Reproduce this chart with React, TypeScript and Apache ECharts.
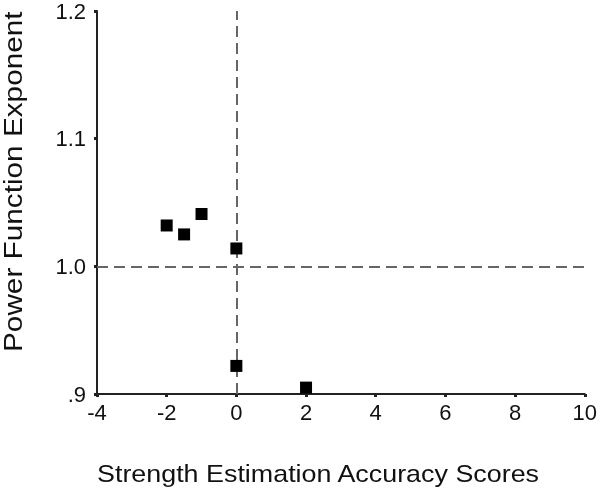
import React, { useEffect, useRef } from "react";
import * as echarts from "echarts";

const xValues = [-2, -1.5, -1, 0, 0, 2];
const yValues = [1.032, 1.025, 1.041, 1.014, 0.922, 0.905];
const yTickLabels: Record<string, string> = { "0.9": ".9", "1.0": "1.0", "1.1": "1.1", "1.2": "1.2" };
const xTitle = "Strength Estimation Accuracy Scores";
const yTitle = "Power Function Exponent";
const refX = 0;
const refY = 1.0;

export default function App() {
  const ref = useRef<HTMLDivElement>(null);
  useEffect(() => {
    if (!ref.current) return;
    const chart = echarts.init(ref.current, undefined, { renderer: "svg" });
    const font = "Liberation Sans, Arial, sans-serif";
    chart.setOption({
      animation: false,
      grid: { left: 97, right: 13, top: 10, bottom: 100 },
      xAxis: {
        type: "value",
        min: -4,
        max: 10,
        interval: 2,
        splitLine: { show: false },
        axisLine: { onZero: false, lineStyle: { color: "#222", width: 2 } },
        axisTick: { length: 3, lineStyle: { color: "#222", width: 3 } },
        axisLabel: { color: "#111", fontSize: 22, fontFamily: font, margin: 7 },
      },
      yAxis: {
        type: "value",
        min: 0.9,
        max: 1.2,
        interval: 0.1,
        splitLine: { show: false },
        axisLine: { onZero: false, lineStyle: { color: "#222", width: 2 } },
        axisTick: { length: 3, lineStyle: { color: "#222", width: 3 } },
        axisLabel: {
          color: "#111",
          fontSize: 22,
          fontFamily: font,
          margin: 11,
          formatter: (v: number) => yTickLabels[v.toFixed(1)] ?? v.toFixed(1),
        },
      },
      series: [
        {
          type: "scatter",
          data: xValues.map((x, i) => [x, yValues[i]]),
          symbol: "rect",
          symbolSize: 12,
          itemStyle: { color: "#000", opacity: 1 },
          z: 5,
          markLine: {
            silent: true,
            symbol: "none",
            label: { show: false },
            lineStyle: { color: "#666", width: 2, type: [11, 6] },
            data: [{ xAxis: refX }, { yAxis: refY }],
          },
        },
      ],
      graphic: [
        {
          type: "text",
          x: 97,
          y: 462,
          scaleX: 1.12,
          style: { text: xTitle, fontSize: 24, fontFamily: font, fill: "#111" },
        },
        {
          type: "text",
          x: 1,
          y: 352,
          rotation: Math.PI / 2,
          scaleX: 1.19,
          style: { text: yTitle, fontSize: 25, fontFamily: font, fill: "#111", textVerticalAlign: "top" },
        },
      ],
    });
    return () => chart.dispose();
  }, []);
  return (
    <div
      ref={ref}
      style={{ position: "fixed", left: 0, top: 0, width: 600, height: 494 }}
    />
  );
}
